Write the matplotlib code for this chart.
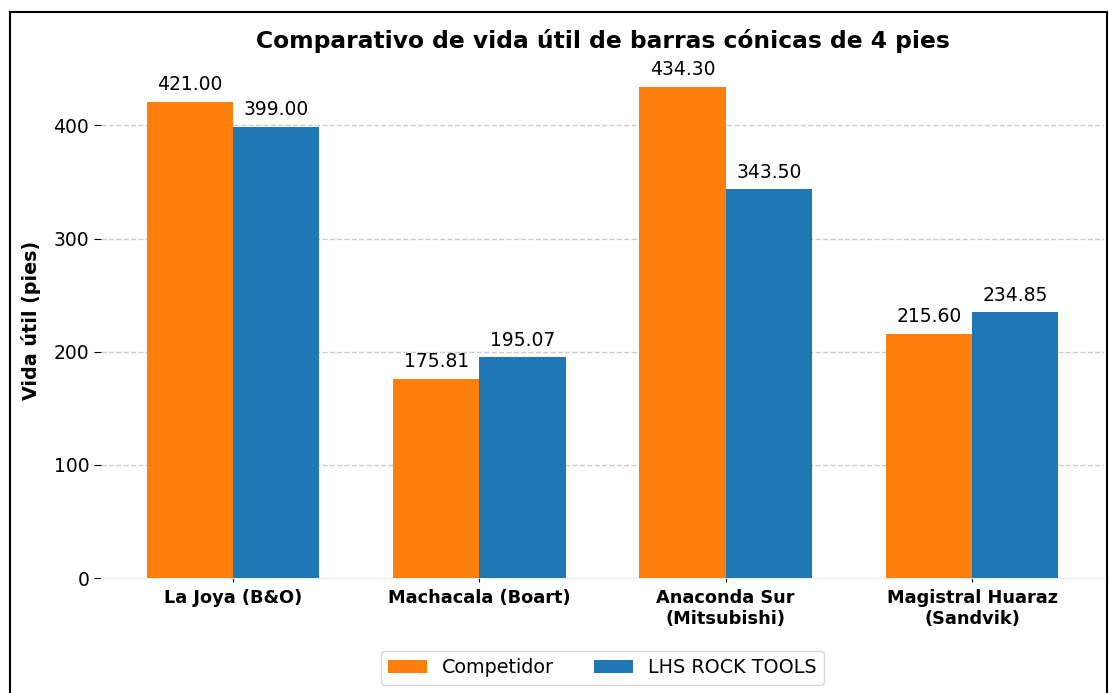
import matplotlib
matplotlib.use("Agg")
import matplotlib.pyplot as plt
import numpy as np
from matplotlib.patches import Rectangle

categories = ["La Joya (B&O)", "Machacala (Boart)", "Anaconda Sur\n(Mitsubishi)", "Magistral Huaraz\n(Sandvik)"]
competidor = [421.00, 175.81, 434.30, 215.60]
lhs = [399.00, 195.07, 343.50, 234.85]
series_names = ["Competidor", "LHS ROCK TOOLS"]
yticks = [0, 100, 200, 300, 400]

fig = plt.figure(figsize=(11.09, 6.93), dpi=100)
ax = fig.add_axes([101/1109, 115/693, (1104-101)/1109, (578-62)/693])

x = np.arange(len(categories))
w = 0.35
b1 = ax.bar(x - w/2, competidor, w, color="#ff7f0e", label=series_names[0], zorder=3)
b2 = ax.bar(x + w/2, lhs, w, color="#1f77b4", label=series_names[1], zorder=3)
ax.bar_label(b1, fmt="%.2f", padding=5.5, fontsize=13.5)
ax.bar_label(b2, fmt="%.2f", padding=5.5, fontsize=13.5)

ax.set_xticks(x)
ax.set_xticklabels(categories, fontweight="bold", fontsize=12.8)
ax.set_yticks(yticks)
ax.tick_params(axis="y", labelsize=13.5, length=5, color="black")
ax.tick_params(axis="x", length=3, width=0.8, pad=5)
ax.set_ylabel("Vida útil (pies)", fontweight="bold", fontsize=13.8, labelpad=9)
ax.set_title("Comparativo de vida útil de barras cónicas de 4 pies", fontweight="bold", fontsize=16.8, pad=10)
ax.yaxis.grid(True, linestyle="--", color="#cccccc", linewidth=1, zorder=0)
ax.set_axisbelow(True)
for s in ["top", "right", "left"]:
    ax.spines[s].set_visible(False)
ax.spines["bottom"].set_color("#eeeeee")

ax.legend(loc="upper center", bbox_to_anchor=(0.5, -0.122), ncol=2, fontsize=13.8,
          frameon=True, handlelength=2.0, columnspacing=2.1)

fig.patches.append(Rectangle((10/1109, -0.1), (1107-10)/1109, 1.1 - 12/693,
                             transform=fig.transFigure, fill=False, edgecolor="black", linewidth=1.5))

fig.savefig("out.png", dpi=100)
